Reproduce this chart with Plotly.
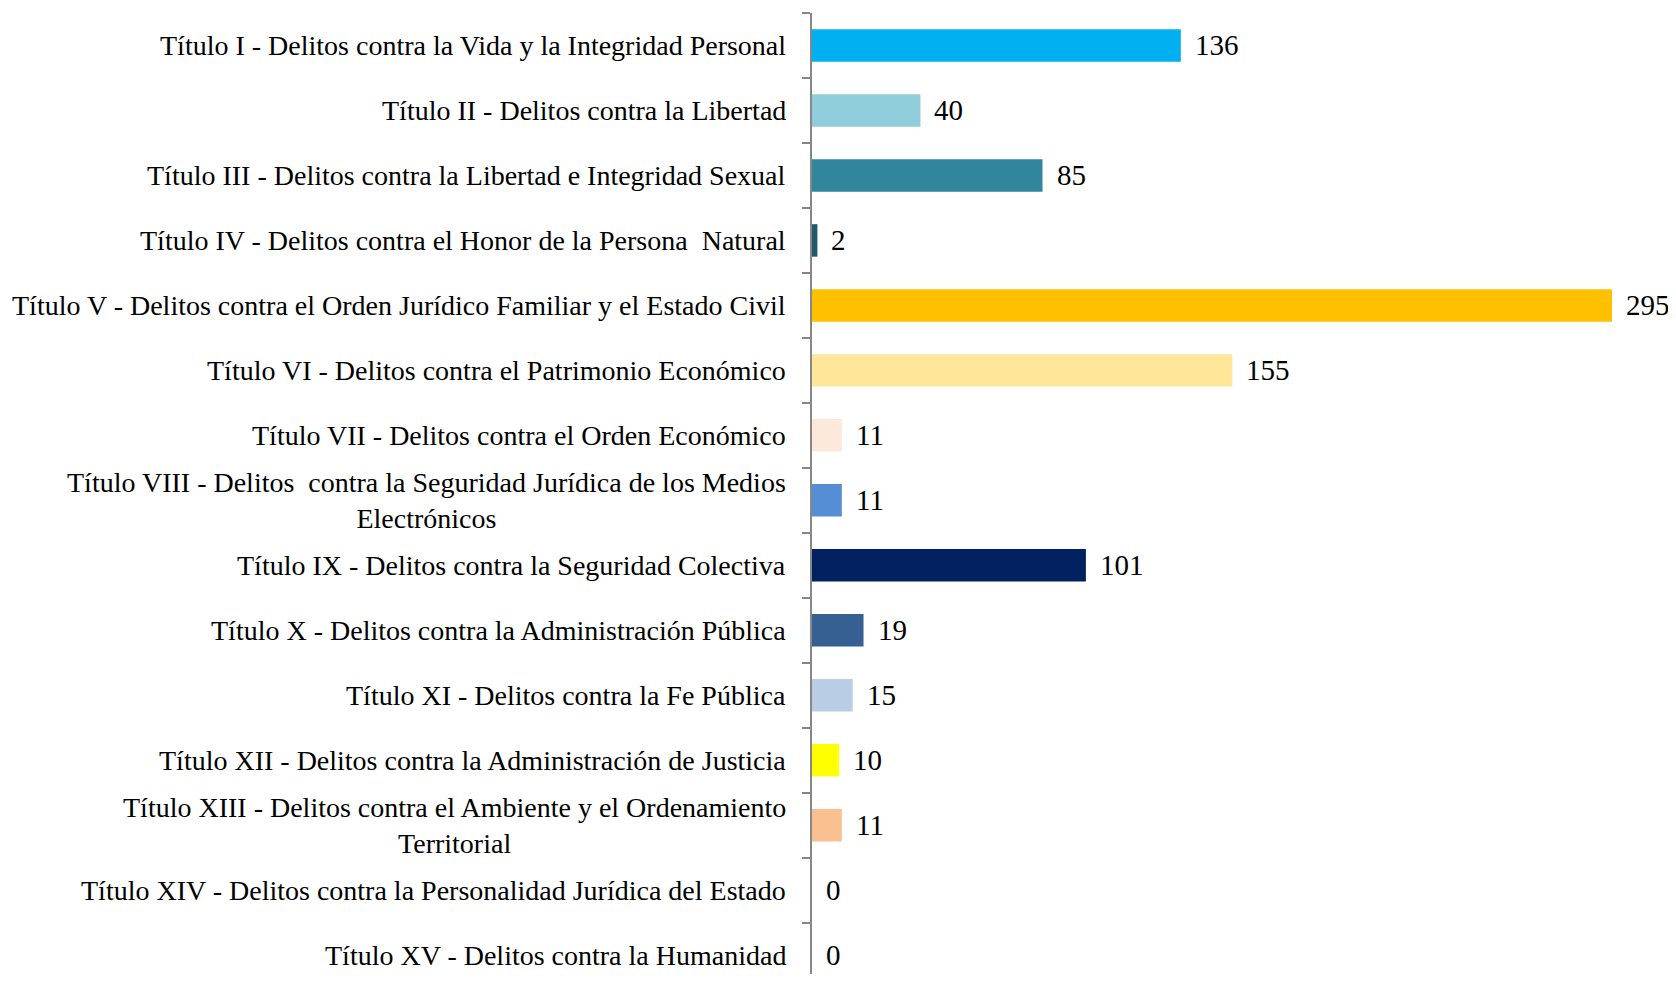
import plotly.graph_objects as go

# datos
titulos = [
    "Título I - Delitos contra la Vida y la Integridad Personal",
    "Título II - Delitos contra la Libertad",
    "Título III - Delitos contra la Libertad e Integridad Sexual",
    "Título IV - Delitos contra el Honor de la Persona  Natural",
    "Título V - Delitos contra el Orden Jurídico Familiar y el Estado Civil",
    "Título VI - Delitos contra el Patrimonio Económico",
    "Título VII - Delitos contra el Orden Económico",
    "Título VIII - Delitos  contra la Seguridad Jurídica de los Medios<br>Electrónicos",
    "Título IX - Delitos contra la Seguridad Colectiva",
    "Título X - Delitos contra la Administración Pública",
    "Título XI - Delitos contra la Fe Pública",
    "Título XII - Delitos contra la Administración de Justicia",
    "Título XIII - Delitos contra el Ambiente y el Ordenamiento<br>Territorial",
    "Título XIV - Delitos contra la Personalidad Jurídica del Estado",
    "Título XV - Delitos contra la Humanidad",
]
casos = [136, 40, 85, 2, 295, 155, 11, 11, 101, 19, 15, 10, 11, 0, 0]
colores = [
    "#00B0F0", "#92CDDC", "#31859C", "#215968", "#FFC000",
    "#FFE699", "#FDE9D9", "#558ED5", "#002060", "#376092",
    "#B9CDE5", "#FFFF00", "#FAC090", "#FFFFFF", "#FFFFFF",
]

FUENTE = "Liberation Serif"
EJE = "#878787"

fig = go.Figure()
fig.add_trace(go.Bar(
    y=titulos, x=casos, orientation="h",
    marker=dict(color=colores, line=dict(width=0)),
    width=0.5, showlegend=False, hoverinfo="x+y",
))

anotaciones = []
for t, v in zip(titulos, casos):
    # etiqueta de categoría (centrada en varias líneas)
    anotaciones.append(dict(
        x=0, xref="paper", y=t, yref="y", text=t, showarrow=False,
        xanchor="right", xshift=-24, align="center",
        font=dict(family=FUENTE, size=28, color="#000000"),
    ))
    # valor
    anotaciones.append(dict(
        x=v, xref="x", y=t, yref="y", text=str(v), showarrow=False,
        xanchor="left", xshift=12,
        font=dict(family=FUENTE, size=29, color="#000000"),
    ))

# la página deja 8 px de margen: se descuentan aquí (sin barra de desplazamiento)
fig.update_layout(
    width=1668, height=966,
    paper_bgcolor="white", plot_bgcolor="white",
    margin=dict(l=804, r=0, t=5, b=0),
    annotations=anotaciones,
)
fig.update_xaxes(range=[0, 318.6], visible=False, showgrid=False, zeroline=False)
fig.update_yaxes(
    range=[14.29, -0.5], showticklabels=False, showgrid=False, zeroline=False,
    showline=True, linecolor=EJE, linewidth=2,
    ticks="outside", ticklen=8, tickcolor=EJE, tickwidth=2, tickson="boundaries",
)

fig.write_html("out.html")
